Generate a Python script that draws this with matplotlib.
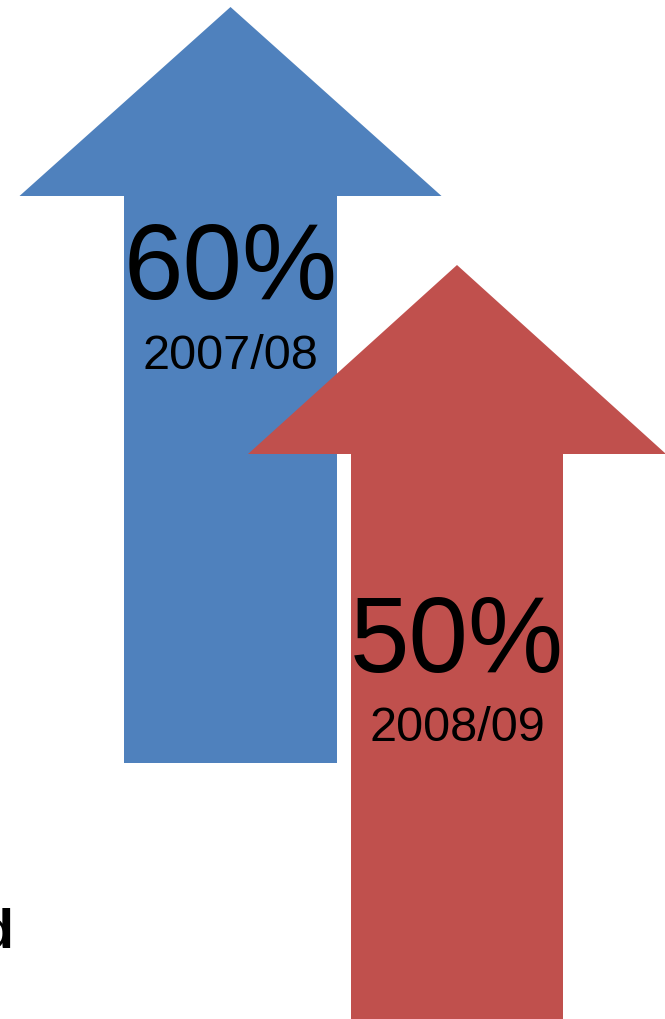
import matplotlib.pyplot as plt
from matplotlib.patches import FancyArrow

plt.rcParams['font.family'] = ['Liberation Sans', 'DejaVu Sans']

# data
values = [60, 50]
years = ['2007/08', '2008/09']
colors = ['#4F81BD', '#C0504D']

# arrow layout (pixel space): centre x, tip y, tail y
centres = [230.5, 457]
tips = [8, 266]
tails = [764, 1030]
shaft_w = [213, 212]
head_w = [422, 418]
head_len = [189, 189]
label_y = [271, 644]
year_y = [357, 729]

fig = plt.figure(figsize=(6.65, 10.2), dpi=100)
ax = fig.add_axes([0, 0, 1, 1])
ax.set_xlim(0, 665)
ax.set_ylim(1020, 0)
ax.axis('off')

for i in range(len(values)):
    arr = FancyArrow(centres[i], tails[i], 0, tips[i] - tails[i],
                     width=shaft_w[i], head_width=head_w[i], head_length=head_len[i],
                     length_includes_head=True, color=colors[i], lw=0, zorder=2 + i)
    ax.add_patch(arr)
    ax.text(centres[i], label_y[i], f'{values[i]}%', ha='center', va='center',
            fontsize=77, color='black', zorder=5)
    ax.text(centres[i], year_y[i], years[i], ha='center', va='center',
            fontsize=35, color='black', zorder=5)

# clipped text at the left edge
ax.text(14, 948, 'Increased', ha='right', va='baseline', fontsize=40,
        fontweight='bold', color='black')

fig.savefig('out.png', dpi=100)
